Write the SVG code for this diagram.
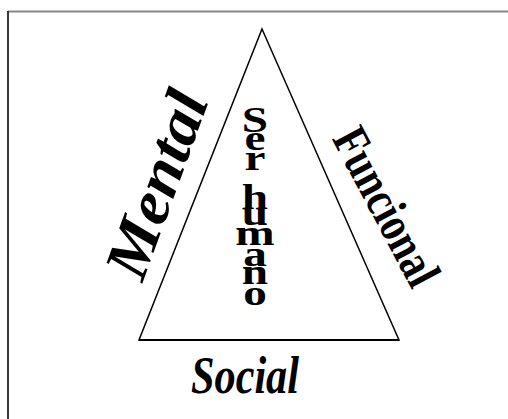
<svg xmlns="http://www.w3.org/2000/svg" width="508" height="419" viewBox="0 0 508 419">
<style>
.edge{fill:none;stroke:#000;stroke-width:1.5;stroke-linejoin:miter}
.lbl{font-family:"Liberation Serif","Times New Roman",serif;font-weight:bold;fill:#000}
.it{font-style:italic}
.ch{font-family:"Liberation Serif","Times New Roman",serif;font-weight:bold;fill:#000;font-size:35px;text-anchor:middle}
</style>
<rect width="508" height="419" fill="#fff"/>
<g id="frame">
<line x1="8" y1="11.5" x2="508" y2="11.5" stroke="#888" stroke-width="1.8"/>
<line x1="8" y1="11" x2="8" y2="419" stroke="#222" stroke-width="1.8"/>
</g>
<g id="triangle">
<path class="edge" d="M262,29 L399,340 L139,340 Z"/>
<line x1="139" y1="340" x2="399" y2="340" stroke="#000" stroke-width="2"/>
</g>
<g id="center" transform="translate(255,0) scale(1.35,1)">
<text class="ch" x="0" y="132">S</text>
<text class="ch" x="0" y="150">e</text>
<text class="ch" x="0" y="170">r</text>
<text class="ch" x="0" y="209">h</text>
<text class="ch" x="0" y="225">u</text>
<text class="ch" x="0" y="245">m</text>
<text class="ch" x="0" y="266">a</text>
<text class="ch" x="0" y="284">n</text>
<text class="ch" x="0" y="305">o</text>
</g>
<g id="mental">
<text class="lbl it" font-size="62" text-anchor="middle" transform="translate(158,185) rotate(-70)" y="19" textLength="195" lengthAdjust="spacingAndGlyphs">Mental</text>
</g>
<g id="funcional">
<text class="lbl" font-size="50" text-anchor="middle" transform="translate(386,207) rotate(62)" y="16" textLength="172" lengthAdjust="spacingAndGlyphs">Funcional</text>
</g>
<g id="social">
<text class="lbl it" font-size="52" text-anchor="middle" x="245" y="393" textLength="108" lengthAdjust="spacingAndGlyphs">Social</text>
</g>
</svg>
